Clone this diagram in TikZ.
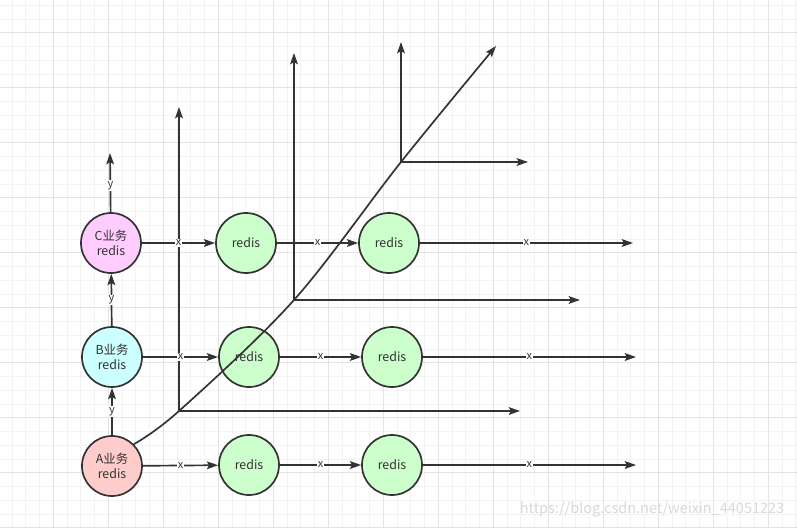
\documentclass[tikz,border=0pt]{standalone}
\usepackage{fontspec}
\setmainfont{Noto Sans CJK SC}
\usetikzlibrary{arrows.meta}
\definecolor{ln}{HTML}{333333}
\definecolor{gridminor}{HTML}{F3F3F3}
\definecolor{gridmajor}{HTML}{E4E4E4}
\definecolor{afill}{HTML}{FFCCCC}
\definecolor{bfill}{HTML}{CCFFFF}
\definecolor{cfill}{HTML}{FFCCFF}
\definecolor{rfill}{HTML}{CCFFCC}
\begin{document}
\begin{tikzpicture}[x=0.025cm,y=-0.025cm,
  bubble/.style={circle,draw=ln,line width=1.2pt,minimum size=1.5cm,inner sep=0pt,
    text=ln,align=center,font=\fontsize{8.8}{10.5}\selectfont},
  arr/.style={ln,line width=1.2pt,-{Stealth[length=8pt,width=5.5pt,inset=1.5pt]}},
  lab/.style={fill=white,inner sep=0.8pt,text=ln,font=\fontsize{7.8}{9}\selectfont}]
  % background grid
  \useasboundingbox (0,0) rectangle (797,528);
  \fill[white] (0,0) rectangle (797,528);
  \foreach \i in {0,...,57}{
    \draw[gridminor,line width=0.6pt] ({12.05+13.75*\i},0) -- ++(0,528);
  }
  \foreach \i in {0,...,38}{
    \draw[gridminor,line width=0.6pt] (0,{5.2+13.75*\i}) -- ++(797,0);
  }
  \foreach \i in {0,...,14}{
    \draw[gridmajor,line width=0.7pt] ({53.3+55*\i},0) -- ++(0,528);
  }
  \foreach \i in {0,...,9}{
    \draw[gridmajor,line width=0.7pt] (0,{32.7+55*\i}) -- ++(797,0);
  }
  % axes
  \coordinate (o1) at (179,411);
  \coordinate (o2) at (294,300);
  \coordinate (o3) at (401,162);
  \coordinate (o1y) at (179,107);
  \coordinate (o1x) at (520,411);
  \coordinate (o2y) at (294,53);
  \coordinate (o2x) at (580,300);
  \coordinate (o3y) at (401,42);
  \coordinate (o3x) at (528,162);
  \coordinate (tip) at (496,46);
  \draw[arr] (o1) -- (o1y);
  \draw[arr] (o1) -- (o1x);
  \draw[arr] (o2) -- (o2y);
  \draw[arr] (o2) -- (o2x);
  \draw[arr] (o3) -- (o3y);
  \draw[arr] (o3) -- (o3x);
  % business redis
  \node[bubble,fill=afill] (A) at (112,466) {A业务\\redis};
  \node[bubble,fill=bfill] (B) at (112,357) {B业务\\redis};
  \node[bubble,fill=cfill] (C) at (111,243) {C业务\\redis};
  % x direction
  \node[bubble,fill=rfill] (a1) at (249,465) {redis};
  \node[bubble,fill=rfill] (a2) at (392,465) {redis};
  \node[bubble,fill=rfill] (b1) at (249,357) {redis};
  \node[bubble,fill=rfill] (b2) at (392,357) {redis};
  \node[bubble,fill=rfill] (c1) at (246,243) {redis};
  \node[bubble,fill=rfill] (c2) at (389,243) {redis};
  \coordinate (aEnd) at (636,465);
  \coordinate (bEnd) at (636,357);
  \coordinate (cEnd) at (633,243);
  \coordinate (cTop) at (110,153);
  \draw[arr] (A) -- node[lab] {x} (a1);
  \draw[arr] (a1) -- node[lab] {x} (a2);
  \draw[arr] (a2) -- node[lab] {x} (aEnd);
  \draw[arr] (B) -- node[lab] {x} (b1);
  \draw[arr] (b1) -- node[lab] {x} (b2);
  \draw[arr] (b2) -- node[lab] {x} (bEnd);
  \draw[arr] (C) -- node[lab] {x} (c1);
  \draw[arr] (c1) -- node[lab] {x} (c2);
  \draw[arr] (c2) -- node[lab] {x} (cEnd);
  % y direction
  \draw[arr] (A) -- node[lab] {y} (B);
  \draw[arr] (B) -- node[lab] {y} (C);
  \draw[arr] (C) -- node[lab,pos=0.45] {y} (cTop);
  % z direction
  \draw[arr] plot[smooth,tension=0.55] coordinates {(A.45) (o1) (o2) (o3) (tip)};
  \node[text=black!15,font=\fontsize{10.3}{12}\selectfont] (mark) at (652,510) {https://blog.csdn.net/weixin\_44051223};
\end{tikzpicture}
\end{document}
